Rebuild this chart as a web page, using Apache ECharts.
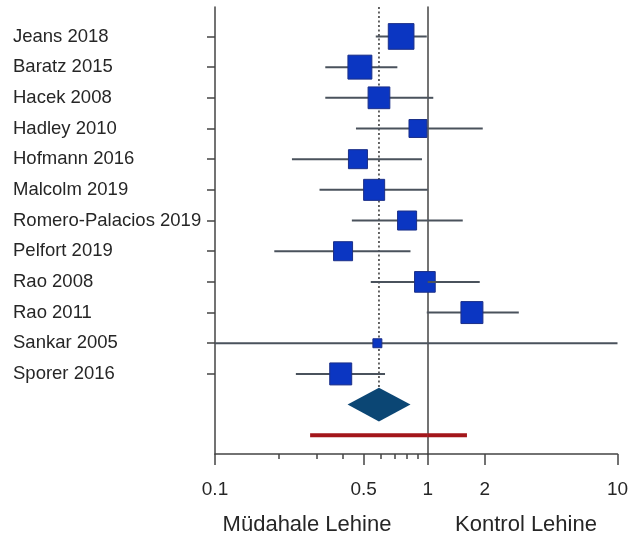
<!DOCTYPE html>
<html>
<head>
<meta charset="utf-8">
<script src="https://cdn.jsdelivr.net/npm/echarts@6/dist/echarts.min.js"></script>
<style>
  html, body { margin: 0; padding: 0; background: #ffffff; }
  #chart { width: 633px; height: 541px; }
</style>
</head>
<body>
<div id="chart"></div>
<script>
// Studies and their odds ratios with 95% confidence intervals
const studies = ['Jeans 2018', 'Baratz 2015', 'Hacek 2008', 'Hadley 2010', 'Hofmann 2016', 'Malcolm 2019',
  'Romero-Palacios 2019', 'Pelfort 2019', 'Rao 2008', 'Rao 2011', 'Sankar 2005', 'Sporer 2016'];
const estimates = [0.75, 0.48, 0.59, 0.90, 0.47, 0.56, 0.80, 0.40, 0.97, 1.71, 0.58, 0.39];
const lowerCI   = [0.57, 0.33, 0.33, 0.46, 0.23, 0.31, 0.44, 0.19, 0.54, 0.99, 0.05, 0.24];
const upperCI   = [0.99, 0.72, 1.07, 1.95, 0.94, 1.00, 1.53, 0.83, 1.88, 3.02, 12.0, 0.63];
const weights   = [13.1, 11.4, 9.4, 6.4, 7.2, 8.8, 7.2, 7.2, 8.5, 9.6, 1.6, 9.6];

// Pooled estimate (diamond) and prediction interval (red bar)
const pooled = [0.59, 0.42, 0.83];
const prediction = [0.28, 1.61];

// Axis tick values
const majorTicksLeft = [0.1, 0.5, 1];
const minorTicksLeft = [0.2, 0.3, 0.4, 0.6, 0.7, 0.8, 0.9];
const majorTicksRight = [2, 10];
const sideLabels = ['Müdahale Lehine', 'Kontrol Lehine'];

const chart = echarts.init(document.getElementById('chart'));

const rowCount = studies.length;
const pooledRow = rowCount;
const predictionRow = rowCount + 1;
const yMin = -0.96, yMax = 13.61;
const ranges = [[0.1, 1], [1, 10]];
const FONT = '"Liberation Sans", Arial, Helvetica, sans-serif';
const TEXT = '#262626';
const AXIS = '#444444';

const studyData = studies.map((s, i) => [i, estimates[i], lowerCI[i], upperCI[i], weights[i]]);

function clampRange(lo, hi, r) {
  const a = Math.max(lo, r[0]);
  const b = Math.min(hi, r[1]);
  return a < b ? [a, b] : null;
}

// Confidence-interval whiskers and weighted squares, drawn per panel
function studyRenderer(panel) {
  const r = ranges[panel];
  return function (params, api) {
    const row = api.value(0), est = api.value(1), lo = api.value(2), hi = api.value(3), w = api.value(4);
    const children = [];
    const seg = clampRange(lo, hi, r);
    if (seg) {
      const p1 = api.coord([seg[0], row]);
      const p2 = api.coord([seg[1], row]);
      children.push({
        type: 'line',
        shape: { x1: p1[0], y1: p1[1], x2: p2[0], y2: p2[1] },
        style: { stroke: '#4a525c', lineWidth: 2 }
      });
    }
    const inPanel = panel === 0 ? est < 1 : est >= 1;
    if (inPanel) {
      const c = api.coord([est, row]);
      const side = 7.09 * Math.sqrt(w);
      children.push({
        type: 'rect',
        shape: { x: c[0] - side / 2, y: c[1] - side / 2, width: side, height: side },
        style: { fill: '#0b36c2', stroke: '#1b2f88', lineWidth: 1 }
      });
    }
    return { type: 'group', children: children };
  };
}

// Red prediction-interval bar, split across the two panels
function predictionRenderer(panel) {
  const r = ranges[panel];
  return function (params, api) {
    const seg = clampRange(api.value(1), api.value(2), r);
    if (!seg) return { type: 'group', children: [] };
    const p1 = api.coord([seg[0], api.value(0)]);
    const p2 = api.coord([seg[1], api.value(0)]);
    return {
      type: 'line',
      shape: { x1: p1[0], y1: p1[1], x2: p2[0], y2: p2[1] },
      style: { stroke: '#a3161b', lineWidth: 4 }
    };
  };
}

const gridBase = { top: 7, bottom: 87, containLabel: false, outerBoundsMode: 'none' };

const option = {
  animation: false,
  backgroundColor: '#ffffff',
  grid: [
    Object.assign({ left: 215, width: 212.7 }, gridBase),
    Object.assign({ left: 427.7, width: 189.8 }, gridBase)
  ],
  xAxis: [
    { // left panel, minor ticks + axis line
      type: 'log', logBase: 10, gridIndex: 0, min: 0.1, max: 1, position: 'bottom', offset: 0,
      axisLine: { show: true, onZero: false, lineStyle: { color: AXIS, width: 1.5 } },
      axisTick: { show: true, length: 5, customValues: minorTicksLeft, lineStyle: { color: AXIS, width: 1.5 } },
      axisLabel: { show: false },
      splitLine: { show: false }
    },
    { // left panel, major ticks + labels
      type: 'log', logBase: 10, gridIndex: 0, min: 0.1, max: 1, position: 'bottom', offset: 0,
      axisLine: { show: false, onZero: false },
      axisTick: { show: true, length: 11, customValues: majorTicksLeft, lineStyle: { color: AXIS, width: 1.5 } },
      axisLabel: {
        show: true, customValues: majorTicksLeft, margin: 26, color: TEXT, fontSize: 19, fontFamily: FONT,
        formatter: v => String(+(+v).toPrecision(3))
      },
      splitLine: { show: false }
    },
    { // right panel
      type: 'log', logBase: 10, gridIndex: 1, min: 1, max: 10, position: 'bottom', offset: 0,
      axisLine: { show: true, onZero: false, lineStyle: { color: AXIS, width: 1.5 } },
      axisTick: { show: true, length: 11, customValues: majorTicksRight, lineStyle: { color: AXIS, width: 1.5 } },
      axisLabel: {
        show: true, customValues: majorTicksRight, margin: 26, color: TEXT, fontSize: 19, fontFamily: FONT,
        formatter: v => String(+(+v).toPrecision(3))
      },
      splitLine: { show: false }
    }
  ],
  yAxis: [
    {
      type: 'value', gridIndex: 0, inverse: true, min: yMin, max: yMax, position: 'left',
      axisLine: { show: true, onZero: false, lineStyle: { color: AXIS, width: 1.5 } },
      axisTick: { show: true, length: 8, customValues: studies.map((s, i) => i), lineStyle: { color: AXIS, width: 1.5 } },
      axisLabel: {
        show: true, customValues: studies.map((s, i) => i), align: 'left', margin: 202,
        color: TEXT, fontSize: 18.5, fontFamily: FONT,
        formatter: v => studies[Math.round(v)] || ''
      },
      splitLine: { show: false }
    },
    { // reference line at OR = 1
      type: 'value', gridIndex: 1, inverse: true, min: yMin, max: yMax, position: 'left',
      axisLine: { show: true, onZero: false, lineStyle: { color: AXIS, width: 1.5 } },
      axisTick: { show: false },
      axisLabel: { show: false },
      splitLine: { show: false }
    }
  ],
  series: [
    { // dotted line at pooled estimate
      type: 'custom', xAxisIndex: 0, yAxisIndex: 0, silent: true, z: 1,
      data: [[pooled[0]]],
      renderItem: function (params, api) {
        const top = api.coord([api.value(0), yMin]);
        const bottom = api.coord([api.value(0), pooledRow]);
        return {
          type: 'line',
          shape: { x1: top[0], y1: top[1], x2: bottom[0], y2: bottom[1] },
          style: { stroke: '#555555', lineWidth: 1.8, lineDash: [2, 2.5] }
        };
      }
    },
    {
      type: 'custom', xAxisIndex: 0, yAxisIndex: 0, silent: true, z: 3,
      data: studyData, renderItem: studyRenderer(0)
    },
    {
      type: 'custom', xAxisIndex: 2, yAxisIndex: 1, silent: true, z: 3,
      data: studyData, renderItem: studyRenderer(1)
    },
    { // pooled diamond
      type: 'custom', xAxisIndex: 0, yAxisIndex: 0, silent: true, z: 4,
      data: [[pooledRow, pooled[0], pooled[1], pooled[2]]],
      renderItem: function (params, api) {
        const row = api.value(0), h = 0.55;
        const pts = [
          api.coord([api.value(2), row]),
          api.coord([api.value(1), row - h]),
          api.coord([api.value(3), row]),
          api.coord([api.value(1), row + h])
        ];
        return { type: 'polygon', shape: { points: pts }, style: { fill: '#0b4674' } };
      }
    },
    {
      type: 'custom', xAxisIndex: 0, yAxisIndex: 0, silent: true, z: 3,
      data: [[predictionRow, prediction[0], prediction[1]]], renderItem: predictionRenderer(0)
    },
    {
      type: 'custom', xAxisIndex: 2, yAxisIndex: 1, silent: true, z: 3,
      data: [[predictionRow, prediction[0], prediction[1]]], renderItem: predictionRenderer(1)
    }
  ],
  graphic: [
    {
      type: 'text', x: 307, y: 525,
      style: { text: sideLabels[0], fill: TEXT, font: '22px ' + FONT, textAlign: 'center', textVerticalAlign: 'middle' }
    },
    {
      type: 'text', x: 526, y: 525,
      style: { text: sideLabels[1], fill: TEXT, font: '22px ' + FONT, textAlign: 'center', textVerticalAlign: 'middle' }
    }
  ]
};

chart.setOption(option);
</script>
</body>
</html>
